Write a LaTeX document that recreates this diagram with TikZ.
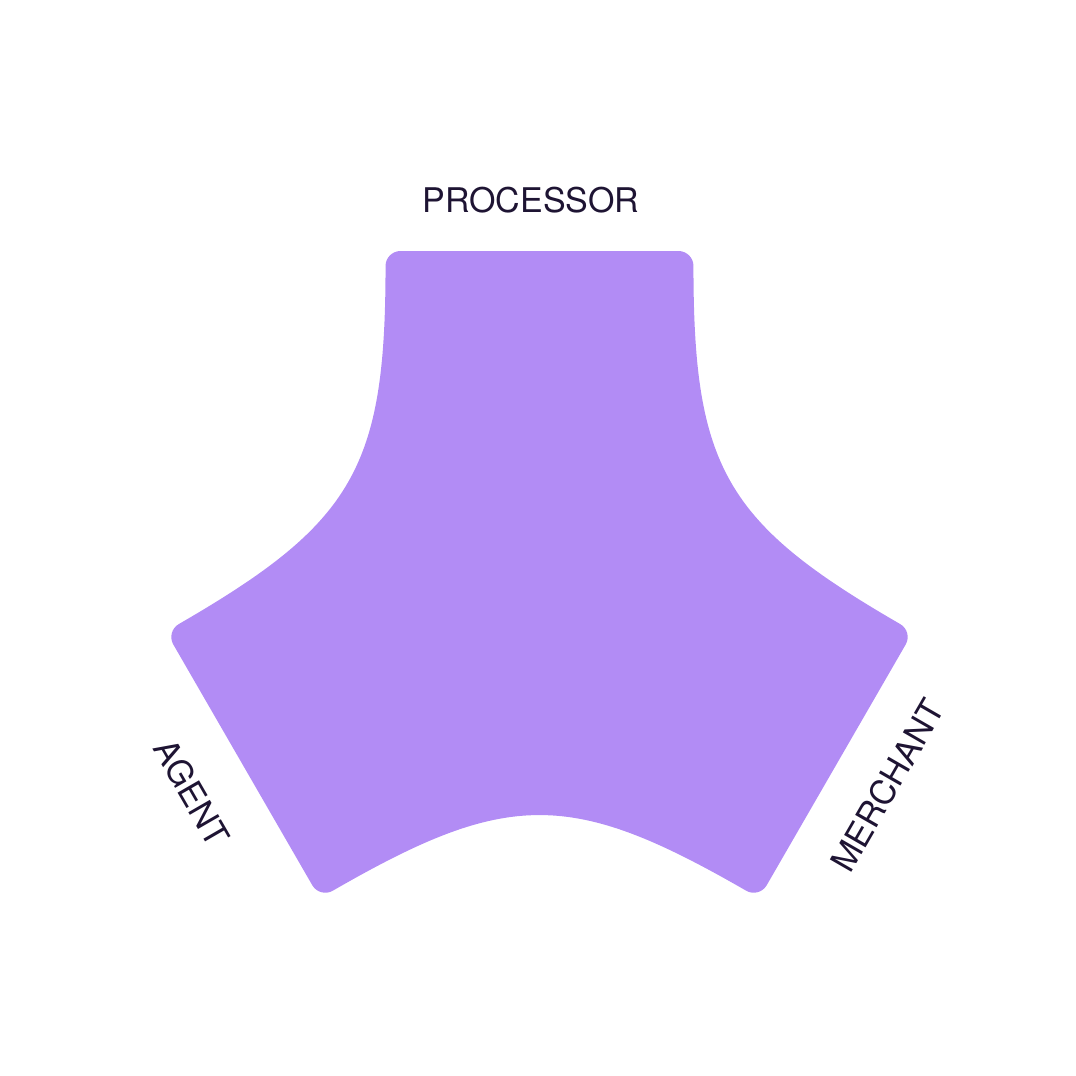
\documentclass[tikz,border=0pt]{standalone}
\usepackage{fontspec}
\setmainfont{TeX Gyre Heros}
\usetikzlibrary{calc}
\definecolor{shapefill}{HTML}{B28CF5}
\definecolor{labelink}{HTML}{1E1433}
\begin{document}
\begin{tikzpicture}[x=1pt,y=1pt,
  lbl/.style={text=labelink, inner sep=0pt, font=\fontsize{34}{34}\selectfont}]
\useasboundingbox (-539.5,-482.4) rectangle (536.5,593.6);
\fill[shapefill] ($(65.8:375.6)+(180:15)$)
 \foreach \a in {0,120,240} {
   -- ($(\a+114.2:375.6)+(\a:15)$)
   .. controls ($(\a+114.2:375.6)+(\a:6.72)$) and ($(\a+114.2:375.6)+(\a+270:6.72)$) .. ($(\a+114.2:375.6)+(\a+270:15)$)
   .. controls ($(\a+114.2:375.6)+(\a+270:216.8)$) and ($(\a+185.8:375.6)+(\a+30:216.8)$) .. ($(\a+185.8:375.6)+(\a+30:15)$)
   .. controls ($(\a+185.8:375.6)+(\a+30:6.72)$) and ($(\a+185.8:375.6)+(\a+300:6.72)$) .. ($(\a+185.8:375.6)+(\a+300:15)$)
 } -- cycle;
\node[lbl] (processor) at (-8.5,393.1) {PROCESSOR};
\node[lbl, rotate=-60] (agent) at (-347.5,-199.4) {AGENT};
\node[lbl, rotate=60] (merchant) at (348,-191.9) {MERCHANT};
\end{tikzpicture}
\end{document}
